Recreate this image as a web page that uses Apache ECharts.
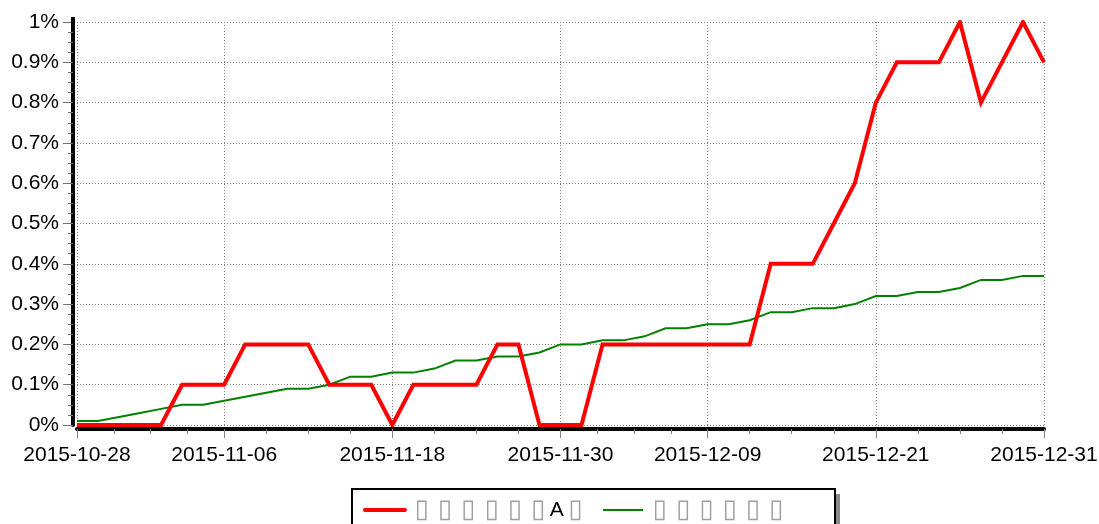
<!DOCTYPE html>
<html>
<head>
<meta charset="utf-8">
<script src="https://cdn.jsdelivr.net/npm/echarts@6/dist/echarts.min.js"></script>
<style>
html,body{margin:0;padding:0;background:#fff;}
#c{width:1099px;height:524px;}
</style>
</head>
<body>
<div id="c"></div>
<script>
const dates = ['2015-10-28','2015-10-29','2015-10-30','2015-11-02','2015-11-03','2015-11-04','2015-11-05','2015-11-06','2015-11-09','2015-11-10','2015-11-11','2015-11-12','2015-11-13','2015-11-16','2015-11-17','2015-11-18','2015-11-19','2015-11-20','2015-11-23','2015-11-24','2015-11-25','2015-11-26','2015-11-27','2015-11-30','2015-12-01','2015-12-02','2015-12-03','2015-12-04','2015-12-07','2015-12-08','2015-12-09','2015-12-10','2015-12-11','2015-12-14','2015-12-15','2015-12-16','2015-12-17','2015-12-18','2015-12-21','2015-12-22','2015-12-23','2015-12-24','2015-12-25','2015-12-28','2015-12-29','2015-12-30','2015-12-31'];
const tickLabels = ['2015-10-28','2015-11-06','2015-11-18','2015-11-30','2015-12-09','2015-12-21','2015-12-31'];
const seriesNames = ['▯▯▯▯▯▯A▯', '▯▯▯▯▯▯'];
const seriesA = [0,0,0,0,0,0.1,0.1,0.1,0.2,0.2,0.2,0.2,0.1,0.1,0.1,0,0.1,0.1,0.1,0.1,0.2,0.2,0,0,0,0.2,0.2,0.2,0.2,0.2,0.2,0.2,0.2,0.4,0.4,0.4,0.5,0.6,0.8,0.9,0.9,0.9,1.0,0.8,0.9,1.0,0.9];
const seriesB = [0.01,0.01,0.02,0.03,0.04,0.05,0.05,0.06,0.07,0.08,0.09,0.09,0.10,0.12,0.12,0.13,0.13,0.14,0.16,0.16,0.17,0.17,0.18,0.20,0.20,0.21,0.21,0.22,0.24,0.24,0.25,0.25,0.26,0.28,0.28,0.29,0.29,0.30,0.32,0.32,0.33,0.33,0.34,0.36,0.36,0.37,0.37];
const yMin = 0, yMax = 1, yStep = 0.1;

const FONT = '"Liberation Sans", Arial, sans-serif';
const labelIdx = tickLabels.map(d => dates.indexOf(d));
// minor tick positions: each labeled section split into 4
const allTicks = [];
for (let k = 0; k < labelIdx.length - 1; k++) {
  const a = labelIdx[k], b = labelIdx[k + 1];
  for (let j = 0; j < 4; j++) allTicks.push(a + (b - a) * j / 4);
}
allTicks.push(labelIdx[labelIdx.length - 1]);

const toXY = arr => arr.map((v, i) => [i, v]);

const chart = echarts.init(document.getElementById('c'), null, {renderer: 'canvas'});
const option = {
  animation: false,
  backgroundColor: '#ffffff',
  textStyle: {fontFamily: FONT},
  grid: {left: 77, right: 55, top: 22, bottom: 99, outerBoundsMode: 'none', containLabel: false},
  graphic: [
    {type: 'rect', z: 1, shape: {x: 357, y: 494, width: 483, height: 45}, style: {fill: '#8a8a8a'}, silent: true},
    {type: 'rect', z: 2, shape: {x: 352, y: 489, width: 483, height: 45}, style: {fill: '#ffffff', stroke: '#000', lineWidth: 2}, silent: true},
    {type: 'rect', z: 5, shape: {x: 71, y: 17, width: 4, height: 6}, style: {fill: '#000'}, silent: true}
  ],
  legend: {
    left: 363, top: 497, padding: 0,
    itemWidth: 40, itemHeight: 20, itemGap: 15,
    z: 10,
    itemStyle: {opacity: 0},
    data: [
      {name: seriesNames[0], lineStyle: {width: 4, cap: 'round'}},
      {name: seriesNames[1], lineStyle: {width: 2}}
    ],
    formatter: name => name.split('').map(ch => ch === '▯' ? '{b|▯}' : '{a|' + ch + '}').join(''),
    textStyle: {
      fontFamily: FONT, fontSize: 21, color: '#000',
      rich: {
        a: {fontFamily: FONT, fontSize: 21, color: '#000', lineHeight: 22},
        b: {fontFamily: '"DejaVu Sans", sans-serif', fontSize: 26, color: '#a0a0a0', width: 23.3, align: 'center', lineHeight: 22}
      }
    }
  },
  xAxis: [
    {
      type: 'value', min: 0, max: dates.length - 1, position: 'bottom', offset: 4,
      axisLine: {show: true, onZero: false, lineStyle: {color: '#000', width: 4}},
      axisTick: {show: true, customValues: labelIdx, length: 9, lineStyle: {color: '#808080', width: 1}},
      axisLabel: {
        customValues: labelIdx, margin: 16, color: '#000', fontSize: 21, fontFamily: FONT,
        formatter: v => dates[Math.round(v)], showMinLabel: true, showMaxLabel: true, hideOverlap: false
      },
      splitLine: {show: true, lineStyle: {color: '#808080', width: 1, type: [1, 2]}}
    },
    {
      type: 'value', min: 0, max: dates.length - 1, position: 'bottom', offset: 4,
      axisLine: {show: false, onZero: false},
      axisTick: {show: true, customValues: allTicks, length: 5, lineStyle: {color: '#808080', width: 1}},
      axisLabel: {show: false},
      splitLine: {show: false}
    }
  ],
  yAxis: {
    type: 'value', min: yMin, max: yMax, interval: yStep, offset: 4,
    axisLine: {show: true, onZero: false, lineStyle: {color: '#000', width: 4}},
    axisTick: {show: true, length: 10, lineStyle: {color: '#707070', width: 1}},
    minorTick: {show: true, splitNumber: 4, length: 5, lineStyle: {color: '#707070', width: 1}},
    axisLabel: {
      margin: 14, color: '#000', fontSize: 21, fontFamily: FONT,
      formatter: v => (+v.toFixed(2)) + '%'
    },
    splitLine: {show: true, lineStyle: {color: '#808080', width: 1, type: [1, 2]}}
  },
  series: [
    {
      name: seriesNames[0], type: 'line', xAxisIndex: 0, data: toXY(seriesA),
      symbol: 'none', z: 4,
      lineStyle: {color: '#ff0000', width: 4, join: 'miter', cap: 'butt'},
      itemStyle: {color: '#ff0000'}
    },
    {
      name: seriesNames[1], type: 'line', xAxisIndex: 0, data: toXY(seriesB),
      symbol: 'none', z: 3,
      lineStyle: {color: '#008000', width: 2, join: 'miter'},
      itemStyle: {color: '#008000'}
    }
  ]
};
chart.setOption(option);
</script>
</body>
</html>
